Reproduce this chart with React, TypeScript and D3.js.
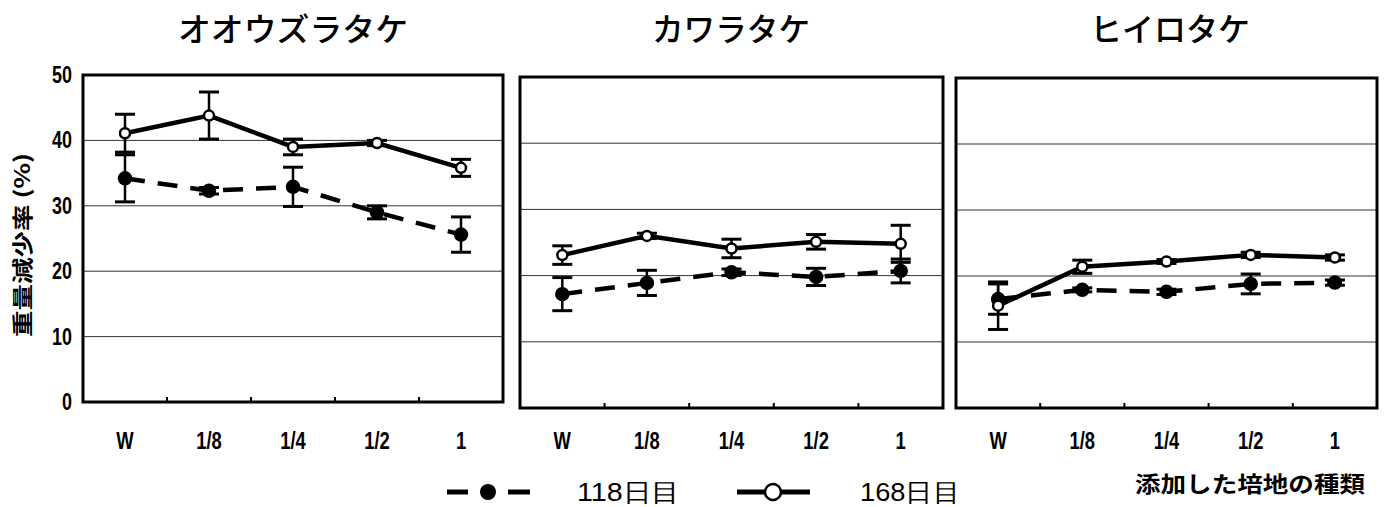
import React from "react";
import * as d3 from "d3";

const categories = ["W", "1/8", "1/4", "1/2", "1"];
const species = ["オオウズラタケ", "カワラタケ", "ヒイロタケ"];
const yTicks = [0, 10, 20, 30, 40, 50];

// 168日目 (open circles, solid line)
const day168 = [
  [41.1, 43.8, 39.0, 39.6, 35.8],
  [23.1, 26.0, 24.1, 25.1, 24.8],
  [15.5, 21.4, 22.2, 23.2, 22.8],
];
const err168 = [
  [2.9, 3.6, 1.2, 0.4, 1.3],
  [1.4, 0.4, 1.4, 1.1, 2.8],
  [3.6, 1.0, 0.3, 0.4, 0.4],
];
// 118日目 (filled circles, dashed line)
const day118 = [
  [34.2, 32.3, 32.9, 29.0, 25.6],
  [17.2, 18.9, 20.5, 19.8, 20.7],
  [16.5, 17.9, 17.6, 18.8, 19.0],
];
const err118 = [
  [3.6, 0.5, 3.0, 1.0, 2.7],
  [2.5, 1.9, 0.5, 1.3, 1.8],
  [2.3, 0.3, 0.4, 1.5, 0.4],
];

const panels = [
  { left: 83, right: 503, top: 75, bottom: 402, titleX: 293, titleW: 230 },
  { left: 520, right: 943, top: 77, bottom: 408, titleX: 731, titleW: 158 },
  { left: 956, right: 1377, top: 78, bottom: 408, titleX: 1170, titleW: 160 },
];

const NUM = "'Liberation Sans', 'DejaVu Sans', sans-serif";
const JP = "'Noto Sans CJK JP', 'Noto Sans CJK SC', sans-serif";

function Narrow({ x, y, anchor = "middle", size = 22, weight = "bold", sx = 0.8, family = NUM, children }) {
  return (
    <text
      transform={`translate(${x},${y}) scale(${sx},1)`}
      textAnchor={anchor}
      fontFamily={family}
      fontWeight={weight}
      fontSize={size}
    >
      {children}
    </text>
  );
}

function Series({ x, y, vals, errs, filled }) {
  const line = d3
    .line<number>()
    .x((_, i) => (x(categories[i]) as number) + x.bandwidth() / 2)
    .y((v) => y(v));
  return (
    <g>
      <path
        d={line(vals) || ""}
        fill="none"
        stroke="#000"
        strokeWidth={4.5}
        strokeDasharray={filled ? "20 13" : undefined}
      />
      {vals.map((v, i) => {
        const cx = (x(categories[i]) as number) + x.bandwidth() / 2;
        const e = errs[i];
        return (
          <g key={i}>
            <line x1={cx} x2={cx} y1={y(v + e)} y2={y(v - e)} stroke="#000" strokeWidth={2.5} />
            <line x1={cx - 10} x2={cx + 10} y1={y(v + e)} y2={y(v + e)} stroke="#000" strokeWidth={3} />
            <line x1={cx - 10} x2={cx + 10} y1={y(v - e)} y2={y(v - e)} stroke="#000" strokeWidth={3} />
            <circle
              cx={cx}
              cy={y(v)}
              r={filled ? 6 : 5}
              fill={filled ? "#000" : "#fff"}
              stroke="#000"
              strokeWidth={2.5}
            />
          </g>
        );
      })}
    </g>
  );
}

export default function App() {
  return (
    <svg
      width={1385}
      height={507}
      style={{ position: "absolute", left: 0, top: 0, background: "#fff" }}
    >
      <rect width={1385} height={507} fill="#fff" />
      {panels.map((p, pi) => {
        const x = d3.scaleBand<string>().domain(categories).range([p.left, p.right]);
        const y = d3.scaleLinear().domain([0, 50]).range([p.bottom, p.top]);
        return (
          <g key={pi}>
            <text
              x={p.titleX}
              y={41}
              textAnchor="middle"
              fontFamily={JP}
              fontSize={32}
              fontWeight={500}
              textLength={p.titleW}
              lengthAdjust="spacingAndGlyphs"
            >
              {species[pi]}
            </text>
            {yTicks
              .filter((t) => t > 0 && t < 50)
              .map((t) => (
                <line key={t} x1={p.left} x2={p.right} y1={y(t)} y2={y(t)} stroke="#333" strokeWidth={1} />
              ))}
            {categories.slice(1).map((c) => (
              <line
                key={c}
                x1={x(c) as number}
                x2={x(c) as number}
                y1={p.bottom}
                y2={p.bottom - 5}
                stroke="#000"
                strokeWidth={2}
              />
            ))}
            <Series x={x} y={y} vals={day118[pi]} errs={err118[pi]} filled={true} />
            <Series x={x} y={y} vals={day168[pi]} errs={err168[pi]} filled={false} />
            <rect
              x={p.left}
              y={p.top}
              width={p.right - p.left}
              height={p.bottom - p.top}
              fill="none"
              stroke="#000"
              strokeWidth={3}
            />
            {categories.map((c) => (
              <Narrow key={c} x={(x(c) as number) + x.bandwidth() / 2} y={449} size={23}>
                {c}
              </Narrow>
            ))}
            {pi === 0 &&
              yTicks.map((t) => (
                <Narrow key={t} x={72} y={y(t) + 8} anchor="end" size={23} sx={0.78}>
                  {t}
                </Narrow>
              ))}
          </g>
        );
      })}
      <text
        transform="translate(30,245) rotate(-90)"
        textAnchor="middle"
        fontFamily={JP}
        fontWeight="bold"
        fontSize={21}
        textLength={184}
        lengthAdjust="spacingAndGlyphs"
      >
        重量減少率 (%)
      </text>
      {/* legend */}
      <line x1={447} x2={468} y1={492} y2={492} stroke="#000" strokeWidth={5} />
      <line x1={508} x2={530} y1={492} y2={492} stroke="#000" strokeWidth={5} />
      <circle cx={488} cy={492} r={8} fill="#000" />
      <text x={577} y={501} fontFamily={NUM} fontSize={25} textLength={103} lengthAdjust="spacingAndGlyphs">
        118日目
      </text>
      <line x1={737} x2={810} y1={492} y2={492} stroke="#000" strokeWidth={5} />
      <circle cx={773} cy={492} r={8} fill="#fff" stroke="#000" strokeWidth={2.5} />
      <text x={860} y={501} fontFamily={NUM} fontSize={25} textLength={100} lengthAdjust="spacingAndGlyphs">
        168日目
      </text>
      <text
        x={1135}
        y={492}
        fontFamily={JP}
        fontWeight="bold"
        fontSize={22}
        textLength={230}
        lengthAdjust="spacingAndGlyphs"
      >
        添加した培地の種類
      </text>
    </svg>
  );
}
